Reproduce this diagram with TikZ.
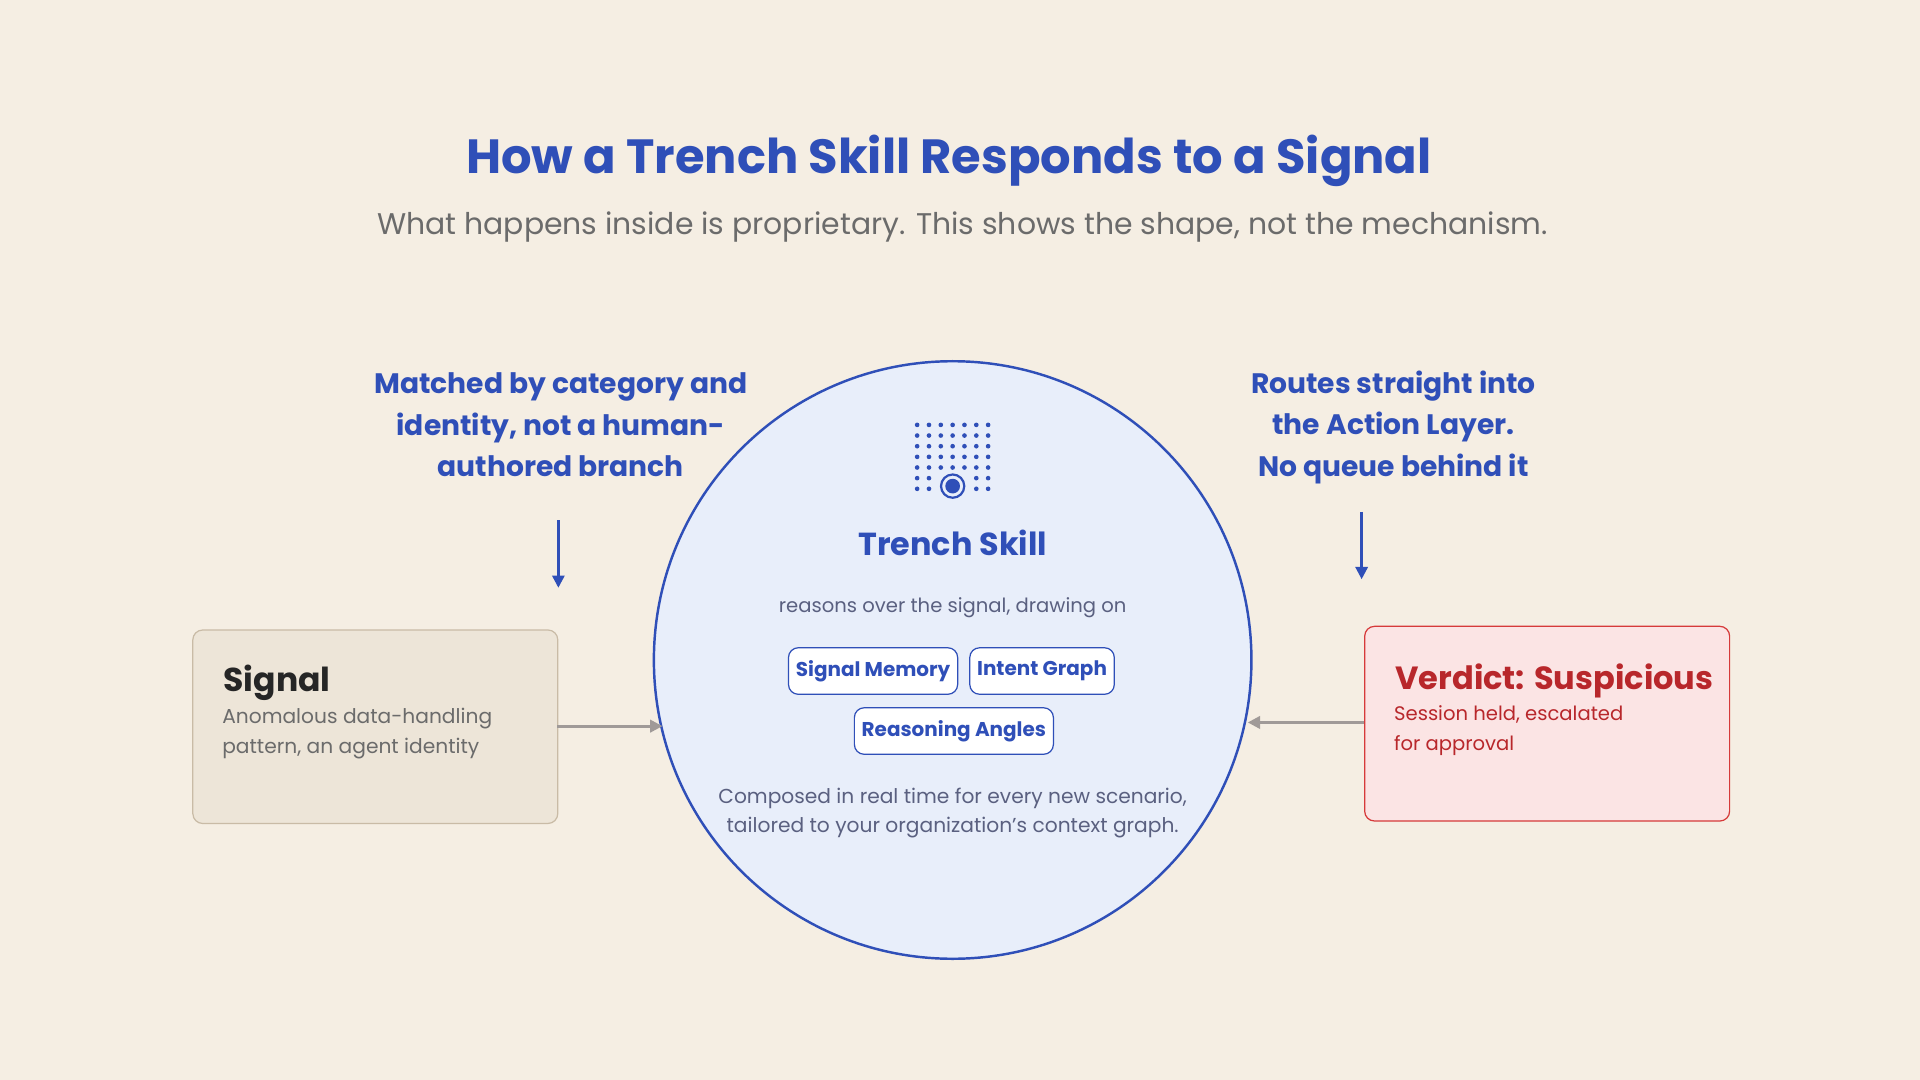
\documentclass[tikz,border=0pt]{standalone}
\usepackage{fontspec}
\setmainfont{Poppins}
\usetikzlibrary{arrows.meta}
\definecolor{bg}{HTML}{F5EEE3}
\definecolor{blue}{HTML}{2F4FB8}
\definecolor{cfill}{HTML}{E8EEFA}
\definecolor{gtxt}{HTML}{6B6B6B}
\definecolor{btxt}{HTML}{5A6080}
\definecolor{sfill}{HTML}{EDE5D8}
\definecolor{sline}{HTML}{C9BBA6}
\definecolor{vfill}{HTML}{FBE4E4}
\definecolor{vline}{HTML}{D63A3A}
\definecolor{vtxt}{HTML}{B8272B}
\definecolor{arr}{HTML}{A09A98}
\newcommand{\fs}[2]{\fontsize{#1}{#2}\selectfont}
\begin{document}
\begin{tikzpicture}[x=1pt,y=-1pt,
  pill/.style={draw=blue,fill=white,rounded corners=8pt,line width=1pt,text=blue,font=\fs{16.3}{20}\bfseries,minimum height=38pt,inner xsep=6pt},
  box/.style={rounded corners=8pt,line width=1pt},
  garr/.style={draw=arr,line width=2.4pt,-{Triangle[length=10pt,width=10pt]}},
  barr/.style={draw=blue,line width=2pt,-{Triangle[length=10pt,width=10pt]}},
  note/.style={text=blue,font=\fs{23}{34}\bfseries,align=center}]
\fill[bg] (0,0) rectangle (1568,882);
\useasboundingbox (0,0) rectangle (1568,882);
\node[text=blue,font=\fs{39.2}{48}\bfseries] (title) at (775,131) {How a Trench Skill Responds to a Signal};
\node[text=gtxt,font=\fs{24.4}{30}] (sub) at (786,185) {What happens inside is proprietary. This shows the shape, not the mechanism.};
\node[circle,draw=blue,fill=cfill,line width=2pt,minimum size=488pt,inner sep=0pt] (c) at (778,539) {};
\foreach \i in {0,...,6}{\foreach \j in {0,...,6}{
  \pgfmathtruncatemacro{\skp}{(\j>4)*(\i>1)*(\i<5)}
  \ifnum\skp=0 \fill[blue] (749+\i*9.66,347+\j*8.7) circle (1.9pt);\fi}}
\node[circle,draw=blue,line width=1.8pt,minimum size=19pt,inner sep=0pt] (ring) at (778,397) {};
\fill[blue] (ring.center) circle (6pt);
\node[text=blue,font=\fs{26}{30}\bfseries] (ts) at (778,443) {Trench Skill};
\node[text=btxt,font=\fs{16}{20}] (rs) at (778,496) {reasons over the signal, drawing on};
\node[pill] (sm) at (713,548) {Signal Memory};
\node[pill] (ig) at (851,548) {Intent Graph};
\node[pill] (ra) at (779,597) {Reasoning Angles};
\node[text=btxt,font=\fs{16.5}{24},align=center] (comp) at (778,664) {Composed in real time for every new scenario,\\tailored to your organization's context graph.};
\node[box,draw=sline,fill=sfill,minimum width=298pt,minimum height=158pt,anchor=north west] (sig) at (157,514) {};
\node[anchor=west,text=black!85,font=\fs{27}{32}\bfseries] (sigt) at (179,558) {Signal};
\node[anchor=north west,text=gtxt,font=\fs{16.5}{24},align=left] (sigd) at (178,575) {Anomalous data-handling\\pattern, an agent identity};
\node[box,draw=vline,fill=vfill,minimum width=298pt,minimum height=159pt,anchor=north west] (ver) at (1114,511) {};
\node[anchor=west,text=vtxt,font=\fs{26.2}{32}\bfseries] (vert) at (1136,556) {Verdict: Suspicious};
\node[anchor=north west,text=vtxt,font=\fs{16}{24},align=left] (verd) at (1135,573) {Session held, escalated\\for approval};
\coordinate (sa) at (455,593); \coordinate (sb) at (541,593);
\draw[garr] (sa) -- (sb);
\coordinate (va) at (1114,590); \coordinate (vb) at (1019,590);
\draw[garr] (va) -- (vb);
\node[note] (ln) at (458,347) {Matched by category and\\identity, not a human-\\authored branch};
\node[note] (rn) at (1138,349) {Routes straight into\\the Action Layer.\\No queue behind it};
\coordinate (la) at (456,425); \coordinate (lb) at (456,480);
\draw[barr] (la) -- (lb);
\coordinate (ra1) at (1112,418); \coordinate (rb1) at (1112,473);
\draw[barr] (ra1) -- (rb1);
\end{tikzpicture}
\end{document}
